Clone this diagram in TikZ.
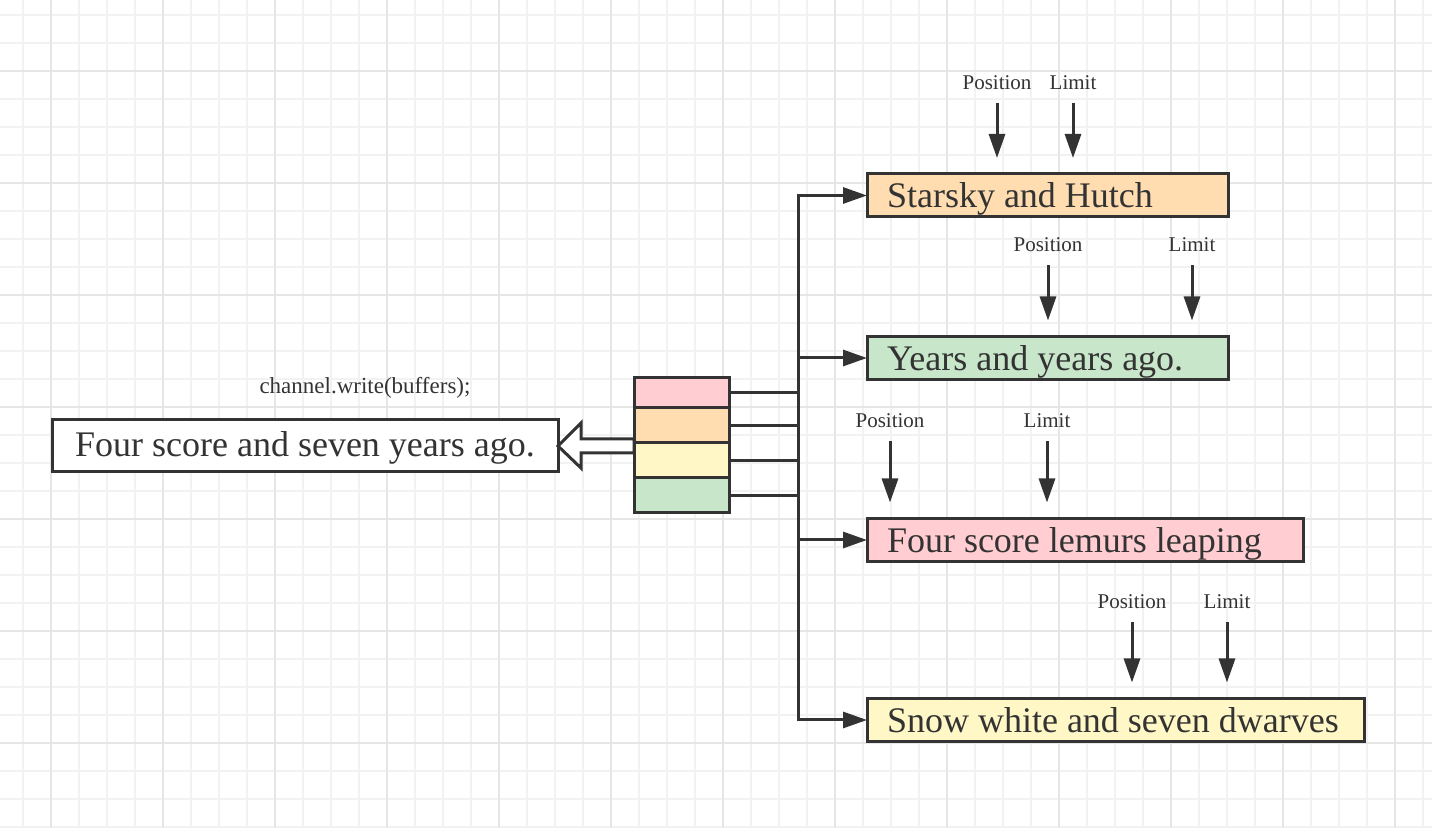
\documentclass[tikz,border=0pt]{standalone}
\usepackage{fontspec}
\setmainfont{Liberation Serif}
\usetikzlibrary{arrows.meta,positioning}
\definecolor{ink}{HTML}{333333}
\definecolor{gridlo}{HTML}{F2F2F2}
\definecolor{gridhi}{HTML}{E6E6E6}
\definecolor{peach}{HTML}{FFDDB0}
\definecolor{mint}{HTML}{C8E6C9}
\definecolor{rose}{HTML}{FFCDD2}
\definecolor{cream}{HTML}{FFF8C6}
\tikzset{
  box/.style={draw=ink, line width=1.5pt, text=ink, font=\fontsize{18}{20}\selectfont,
    inner xsep=10pt, inner ysep=0pt, minimum height=21.5pt, outer sep=0pt},
  card/.style={box, anchor=west, text height=12.5pt, text depth=0pt,
    execute at begin node={\hbox to #1\bgroup}, execute at end node={\hfil\egroup}},
  cell/.style={draw=ink, line width=1.5pt, minimum width=47.5pt, outer sep=0pt, inner sep=0pt},
  tag/.style={text=ink, font=\fontsize{10.5}{12}\selectfont, inner sep=0pt},
  line/.style={draw=ink, line width=1.5pt, line cap=rect},
  ptr/.style={line, -{Triangle[length=12pt,width=8pt]}},
}
\begin{document}
\begin{tikzpicture}[x=0.5pt, y=-0.5pt]
\useasboundingbox (0,0) rectangle (1432,828);
% grid paper
\foreach \x in {23,51,...,1432} \draw[gridlo, line width=0.75pt] (\x,0) -- (\x,828);
\foreach \y in {15,43,...,828} \draw[gridlo, line width=0.75pt] (0,\y) -- (1432,\y);
\foreach \x in {51,163,...,1432} \draw[gridhi, line width=0.75pt] (\x,0) -- (\x,828);
\foreach \y in {71,183,...,828} \draw[gridhi, line width=0.75pt] (0,\y) -- (1432,\y);

% gathered result
\node[box, minimum width=253pt, minimum height=26pt, text height=11pt, text depth=0pt, fill=white] (out) at (305,446) {Four score and seven years ago.};
\node[tag, font=\fontsize{11.5}{13}\selectfont] (call) at (365,388) {channel.write(buffers);};
\draw[line, line cap=butt, line join=miter, fill=white] (out.east) -- ++(23,-23) -- ++(0,16) -- ++(53,0)
  -- ++(0,14) -- ++(-53,0) -- ++(0,15) -- cycle;

% buffer array
\node[cell, fill=rose, minimum height=15pt] (c1) at (681.5,393) {};
\node[cell, fill=peach, minimum height=17.5pt, below=0pt of c1] (c2) {};
\node[cell, fill=cream, minimum height=17.5pt, below=0pt of c2] (c3) {};
\node[cell, fill=mint, minimum height=17.5pt, below=0pt of c3] (c4) {};

% single buffers
\node[card=160.5pt, fill=peach] (b1) at (867,195.5) {Starsky and Hutch};
\node[card=160.5pt, fill=mint] (b2) at (867,358) {Years and years ago.};
\node[card=198pt, fill=rose] (b3) at (867,540) {Four score lemurs leaping};
\node[card=228.5pt, fill=cream] (b4) at (867,720) {Snow white and seven dwarves};

% bus
\coordinate (bus) at (798,0);
\draw[line] (bus |- b1.west) -- (bus |- b4.west);
\foreach \i in {1,...,4} {
  \draw[line] (c\i.east) -- (c\i.east -| bus);
  \draw[ptr] (bus |- b\i.west) -- (b\i.west);
}

% position and limit
\foreach \i/\px/\lx/\y in {1/997/1073/105, 2/1048/1192/267, 3/890/1047/443, 4/1132/1227/624} {
  \coordinate (pos\i) at (\px,\y);
  \coordinate (lim\i) at (\lx,\y);
  \node[tag, above=7.5pt of pos\i] (posl\i) {Position};
  \node[tag, above=7.5pt of lim\i] (liml\i) {Limit};
  \draw[ptr, shorten >=8pt] (pos\i) -- (pos\i |- b\i.north);
  \draw[ptr, shorten >=8pt] (lim\i) -- (lim\i |- b\i.north);
}
\end{tikzpicture}
\end{document}
